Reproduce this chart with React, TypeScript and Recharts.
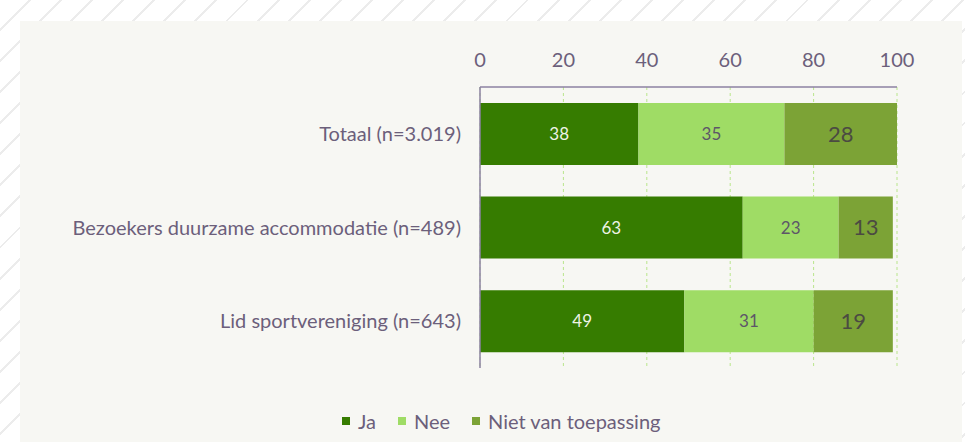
import { BarChart, Bar, XAxis, YAxis, CartesianGrid, Legend, LabelList } from "recharts";

const groups = [
  "Totaal (n=3.019)",
  "Bezoekers duurzame accommodatie (n=489)",
  "Lid sportvereniging (n=643)",
];
const ja = [38, 63, 49];
const nee = [35, 23, 31];
const niet = [28, 13, 19];
const xTicks = [0, 20, 40, 60, 80, 100];

const series = [
  { key: "ja", name: "Ja", color: "#367c00", text: "#eef3e6", size: 17 },
  { key: "nee", name: "Nee", color: "#9fdc65", text: "#5d5668", size: 17 },
  { key: "niet", name: "Niet van toepassing", color: "#7ca336", text: "#4b4a42", size: 22 },
];

const data = groups.map((g, i) => ({ group: g, ja: ja[i], nee: nee[i], niet: niet[i] }));

const textColor = "#6c5f7b";
const axisColor = "#8d82a2";

function LegendBox() {
  return (
    <div style={{ display: "flex", alignItems: "center", fontFamily: "Lato", fontSize: 20, color: textColor }}>
      {series.map((s) => (
        <div key={s.key} style={{ display: "flex", alignItems: "center", marginRight: 22 }}>
          <span style={{ width: 8, height: 8, background: s.color, display: "inline-block", marginRight: 8 }} />
          <span>{s.name}</span>
        </div>
      ))}
    </div>
  );
}

export default function App() {
  return (
    <div
      style={{
        position: "fixed",
        left: 0,
        top: 0,
        width: 965,
        height: 442,
        background: "repeating-linear-gradient(135deg, #ffffff 0px, #ffffff 20px, #ececec 20px, #ececec 22px)",
        overflow: "hidden",
      }}
    >
      <div style={{ position: "absolute", left: 20, top: 21, width: 942, height: 421, background: "#f7f7f3" }} />
      <div style={{ position: "absolute", left: 0, top: 0 }}>
        <BarChart
          width={965}
          height={442}
          data={data}
          layout="vertical"
          margin={{ top: 57, right: 68, bottom: 50, left: 0 }}
          barCategoryGap="17%"
          style={{ fontFamily: "Lato" }}
        >
          <CartesianGrid
            horizontal={false}
            vertical={true}
            stroke="#b9e58c"
            strokeDasharray="3 3"
          />
          <XAxis
            type="number"
            orientation="top"
            domain={[0, 100]}
            ticks={xTicks}
            allowDataOverflow
            tickLine={false}
            tickSize={0}
            tickMargin={20}
            axisLine={{ stroke: axisColor, strokeWidth: 1.5 }}
            tick={{ fill: textColor, fontSize: 20 }}
            height={30}
          />
          <YAxis
            type="category"
            dataKey="group"
            width={480}
            tickLine={false}
            tickSize={0}
            tickMargin={19}
            axisLine={{ stroke: axisColor, strokeWidth: 1.5 }}
            tick={{ fill: textColor, fontSize: 20 }}
          />
          <Legend
            content={<LegendBox />}
            wrapperStyle={{ left: 342, top: 409, width: 420 }}
          />
          {series.map((s) => (
            <Bar key={s.key} dataKey={s.key} name={s.name} stackId="a" fill={s.color} isAnimationActive={false}>
              <LabelList dataKey={s.key} position="center" fill={s.text} fontSize={s.size} />
            </Bar>
          ))}
        </BarChart>
      </div>
    </div>
  );
}
